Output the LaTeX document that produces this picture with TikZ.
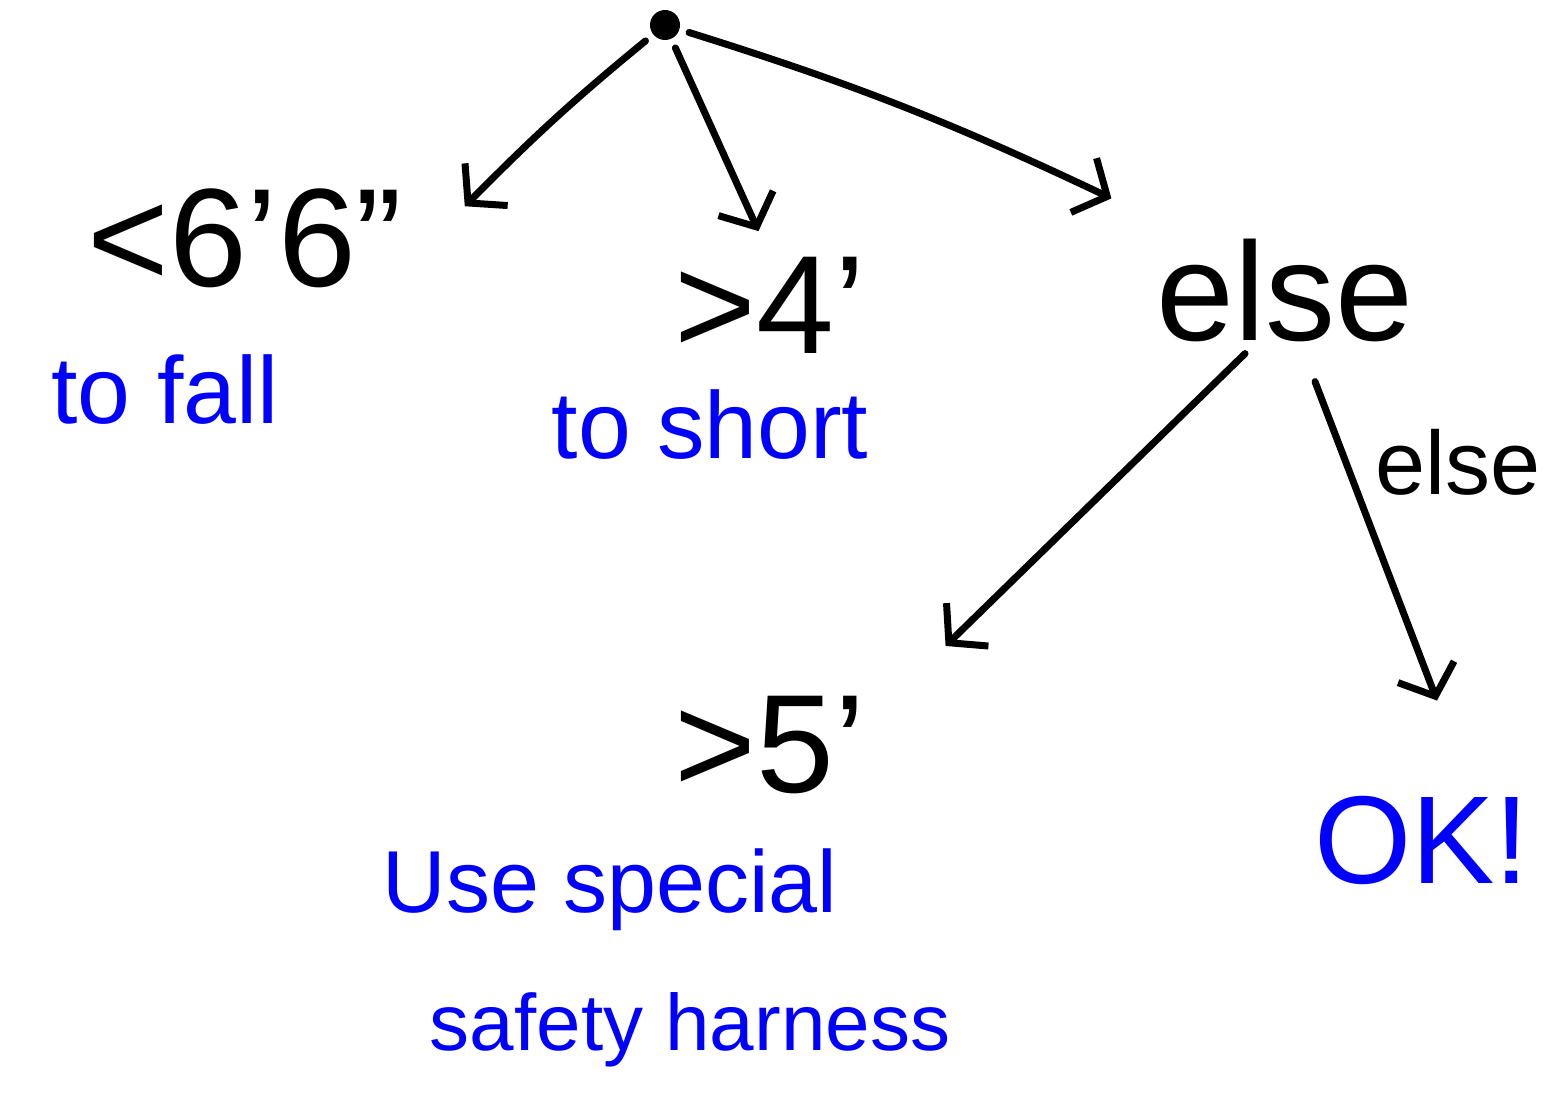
\documentclass[tikz,border=0pt]{standalone}
\usepackage{fontspec}
\setmainfont{Liberation Sans}
\usetikzlibrary{arrows.meta}
\begin{document}
\begin{tikzpicture}[x=1pt,y=-1pt,
  big/.style={font=\fontsize{140}{140}\selectfont, inner sep=0pt},
  note/.style={text=blue, font=\fontsize{95}{95}\selectfont, inner sep=0pt},
  link/.style={line width=7pt, line cap=round, line join=round,
    -{Straight Barb[length=26pt,width=60pt,line width=7pt]}}]
\useasboundingbox (0,0) rectangle (1544,1107);
% root
\node[circle, fill=black, minimum size=30pt, inner sep=0pt] (root) at (665,25) {};
% first level
\node[big] (lt) at (245,238) {<6'6''};
\node[big] (mid) at (770,305) {>4'};
\node[big] (rt) at (1285,290) {else};
% notes
\node[note] (fall) at (165,390) {to fall};
\node[note] (short) at (710,425) {to short};
% second level
\node[big] (bl) at (770,745) {>5'};
\node[big, font=\fontsize{125}{125}\selectfont, text=blue] (ok) at (1422,840) {OK!};
\node[note, font=\fontsize{88}{88}\selectfont] (use) at (610,890) {Use special};
\node[note, font=\fontsize{80}{80}\selectfont] (harness) at (690,1030) {safety harness};
% connectors
\draw[link, shorten <=10pt] (root) to[bend right=3] ([shift={(62,18)}]lt.north east);
\draw[link, shorten <=10pt, shorten >=28pt] (root) -- (mid.north);
\draw[link, shorten <=10pt] (root) to[bend left=4] ([shift={(-45,-40)}]rt.north west);
\draw[link] ([shift={(-40,12)}]rt.south) -- ([shift={(80,-50)}]bl.north east);
\draw[link] ([shift={(30,40)}]rt.south) -- ([xshift=15pt,yshift=95pt]ok.north);
\node[font=\fontsize{90}{90}\selectfont, inner sep=0pt] (elselbl) at (1458,462) {else};
\end{tikzpicture}
\end{document}
